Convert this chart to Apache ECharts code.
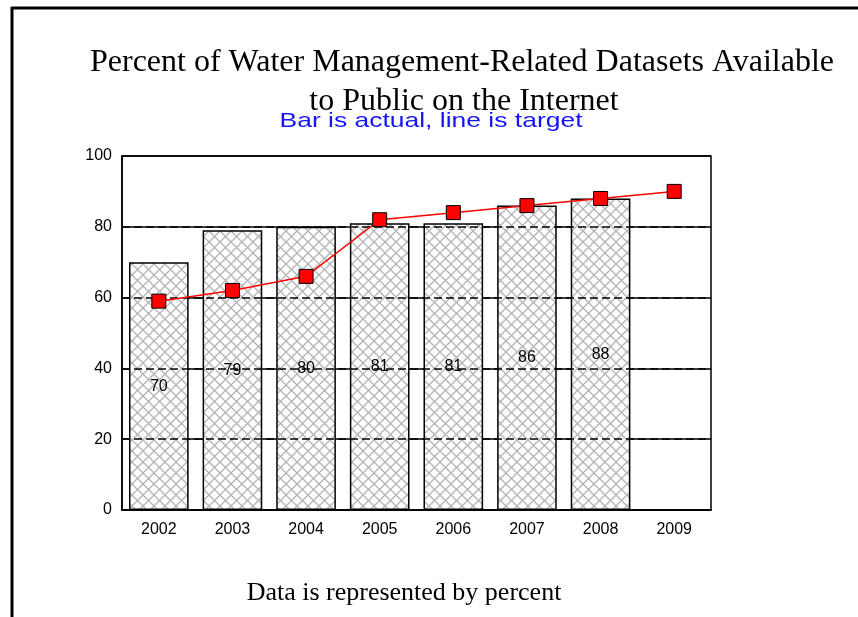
<!DOCTYPE html>
<html>
<head>
<meta charset="utf-8">
<script src="https://cdn.jsdelivr.net/npm/echarts@6/dist/echarts.min.js"></script>
<style>
html, body { margin: 0; padding: 0; background: #fff; }
#main { width: 858px; height: 617px; }
</style>
</head>
<body>
<div id="main"></div>
<script>
var years = ['2002', '2003', '2004', '2005', '2006', '2007', '2008', '2009'];
var actual = [70, 79, 80, 81, 81, 86, 88, '-'];
var target = [59, 62, 66, 82, 84, 86, 88, 90];
var yTicks = [0, 20, 40, 60, 80, 100];
var gridValues = [20, 40, 60, 80];

/*************************** hatch pattern ***************************/
function makeHatch() {
    var c = document.createElement('canvas');
    c.width = 11;
    c.height = 11;
    var ctx = c.getContext('2d');
    ctx.fillStyle = '#ffffff';
    ctx.fillRect(0, 0, 11, 11);
    ctx.strokeStyle = '#b4b4b4';
    ctx.lineWidth = 1.3;
    ctx.beginPath();
    ctx.moveTo(0, 0); ctx.lineTo(11, 11);
    ctx.moveTo(11, 0); ctx.lineTo(0, 11);
    ctx.stroke();
    return c;
}

/*************************** main ***************************/
function main() {
    var myChart = echarts.init(document.getElementById('main'));
    var serif = '"Liberation Serif", "Times New Roman", serif';
    var sans = 'Arial, "Liberation Sans", sans-serif';

    var option = {
        backgroundColor: '#ffffff',
        animation: false,
        graphic: [
            // frame: top and left edges
            {type: 'line', shape: {x1: 11, y1: 8, x2: 858, y2: 8}, style: {stroke: '#000', lineWidth: 3}},
            {type: 'line', shape: {x1: 12, y1: 7, x2: 12, y2: 617}, style: {stroke: '#000', lineWidth: 3}},
            {type: 'text', x: 462, y: 63, style: {
                text: 'Percent of Water Management-Related Datasets Available',
                font: '32px ' + serif,
                fill: '#000', align: 'center', verticalAlign: 'middle'
            }},
            {type: 'text', x: 464, y: 102, style: {
                text: 'to Public on the Internet',
                font: '32px ' + serif,
                fill: '#000', align: 'center', verticalAlign: 'middle'
            }},
            {type: 'text', x: 431, y: 121, z: 10, scaleX: 1.26, style: {
                text: 'Bar is actual, line is target',
                font: '21px ' + sans,
                fill: '#1414ff', align: 'center', verticalAlign: 'middle'
            }},
            {type: 'text', x: 404, y: 593, style: {
                text: 'Data is represented by percent',
                font: '26px ' + serif,
                fill: '#000', align: 'center', verticalAlign: 'middle'
            }}
        ],
        grid: {
            left: 122,
            right: 147,
            top: 156,
            bottom: 107,
            show: true,
            borderColor: '#000',
            borderWidth: 1.5,
            backgroundColor: '#fff'
        },
        xAxis: {
            type: 'category',
            data: years,
            axisTick: {show: false},
            axisLine: {lineStyle: {color: '#000', width: 1.5}},
            axisLabel: {color: '#000', fontFamily: sans, fontSize: 16, margin: 12}
        },
        yAxis: {
            type: 'value',
            min: yTicks[0],
            max: yTicks[yTicks.length - 1],
            interval: 20,
            axisLine: {show: true, lineStyle: {color: '#000', width: 1.5}},
            axisTick: {show: false},
            splitLine: {lineStyle: {color: '#000', width: 1.5}},
            axisLabel: {color: '#000', fontFamily: sans, fontSize: 16, margin: 10}
        },
        series: [
            {
                name: 'Actual',
                type: 'bar',
                data: actual,
                barWidth: '81%',
                itemStyle: {
                    color: {image: makeHatch(), repeat: 'repeat'},
                    borderColor: '#000',
                    borderWidth: 1.5
                },
                label: {
                    show: true,
                    position: 'inside',
                    color: '#000',
                    fontFamily: sans,
                    fontSize: 16
                },
                markLine: {
                    silent: true,
                    symbol: 'none',
                    label: {show: false},
                    lineStyle: {color: '#000', width: 1.5, type: [8, 4]},
                    data: gridValues.map(function (v) { return {yAxis: v}; })
                }
            },
            {
                name: 'Target',
                type: 'line',
                data: target,
                z: 5,
                symbol: 'rect',
                symbolSize: 14,
                lineStyle: {color: '#ff0000', width: 1.5},
                itemStyle: {color: '#ff0000', borderColor: '#000', borderWidth: 1}
            }
        ]
    };

    myChart.setOption(option);
}

main();
</script>
</body>
</html>
